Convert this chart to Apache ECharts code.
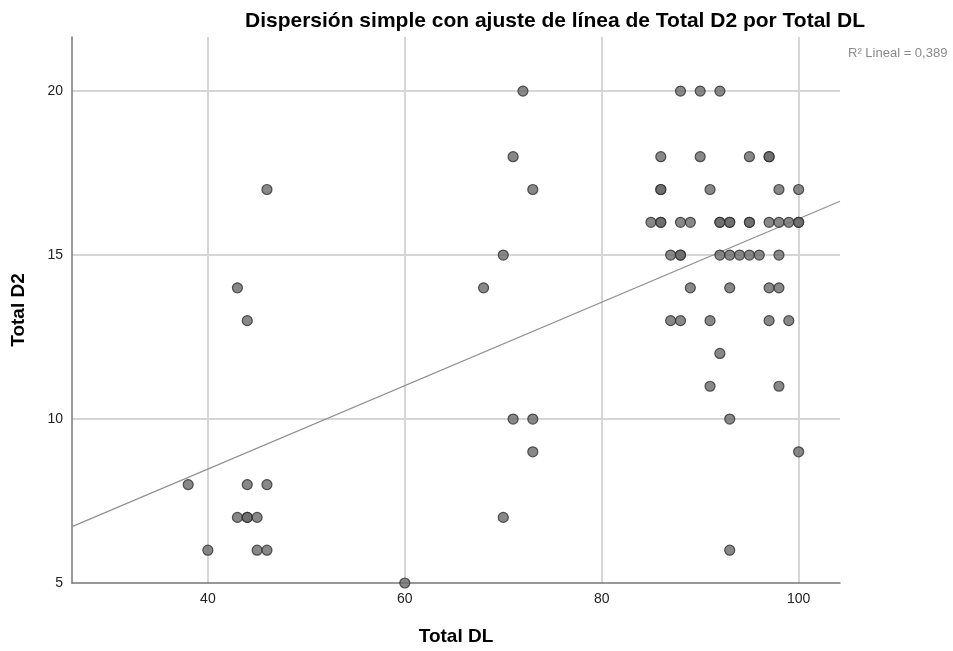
<!DOCTYPE html>
<html>
<head>
<meta charset="utf-8">
<script src="https://cdn.jsdelivr.net/npm/echarts@6/dist/echarts.min.js"></script>
<style>
html,body{margin:0;padding:0;background:#fff;}
#chart{width:953px;height:651px;}
</style>
</head>
<body>
<div id="chart"></div>
<script>
// Total DL (x) and Total D2 (y) for each case
const totalDL = [
  72, 88, 90, 92,
  71, 86, 90, 95, 97, 97,
  46, 73, 86, 86, 91, 98, 100,
  85, 86, 86, 88, 89, 92, 92, 93, 93, 95, 95, 97, 98, 99, 100, 100,
  70, 87, 88, 88, 92, 93, 94, 95, 96, 98,
  43, 68, 89, 93, 97, 98,
  44, 87, 88, 91, 97, 99,
  92,
  91, 98,
  71, 73, 93,
  73, 100,
  38, 44, 46,
  43, 44, 44, 45, 70,
  40, 45, 46, 93,
  60
];
const totalD2 = [
  20, 20, 20, 20,
  18, 18, 18, 18, 18, 18,
  17, 17, 17, 17, 17, 17, 17,
  16, 16, 16, 16, 16, 16, 16, 16, 16, 16, 16, 16, 16, 16, 16, 16,
  15, 15, 15, 15, 15, 15, 15, 15, 15, 15,
  14, 14, 14, 14, 14, 14,
  13, 13, 13, 13, 13, 13,
  12,
  11, 11,
  10, 10, 10,
  9, 9,
  8, 8, 8,
  7, 7, 7, 7, 7,
  6, 6, 6, 6,
  5
];
// Fit line end points
const fitLineX = [26.2, 104.2];
const fitLineY = [6.72, 16.64];
const xTicks = [40, 60, 80, 100];
const yTicks = [5, 10, 15, 20];

const points = totalDL.map((x, i) => [x, totalD2[i]]);
const fitLine = fitLineX.map((x, i) => [x, fitLineY[i]]);

const chart = echarts.init(document.getElementById('chart'), null, {renderer: 'canvas'});
const FONT = 'Liberation Sans, Arial, sans-serif';
chart.setOption({
  animation: false,
  backgroundColor: '#ffffff',
  title: [
    {
      text: 'Dispersión simple con ajuste de línea de Total D2 por Total DL',
      left: 240, top: 6,
      textStyle: {fontFamily: FONT, fontSize: 21, fontWeight: 'bold', color: '#000'}
    },
    {
      text: 'R² Lineal = 0,389',
      left: 843, top: 42,
      textStyle: {fontFamily: FONT, fontSize: 13, fontWeight: 'normal', color: '#8a8a8a'}
    }
  ],
  grid: {left: 72, right: 113, top: 37, bottom: 68, containLabel: false},
  xAxis: {
    type: 'value',
    min: 26.2, max: 104.2,
    name: 'Total DL',
    nameLocation: 'middle',
    nameGap: 44,
    nameTextStyle: {fontFamily: FONT, fontSize: 19, fontWeight: 'bold', color: '#000'},
    axisLine: {show: true, onZero: false, lineStyle: {color: '#777', width: 1.5}},
    axisTick: {show: false},
    axisLabel: {
      fontFamily: FONT, fontSize: 14, color: '#222', margin: 9,
      showMinLabel: false, showMaxLabel: false,
      formatter: v => (xTicks.indexOf(v) >= 0 ? String(v) : '')
    },
    splitLine: {show: true, showMinLine: false, showMaxLine: false, lineStyle: {color: '#d6d6d6', width: 2}}
  },
  yAxis: {
    type: 'value',
    min: 5, max: 21.65, interval: 5,
    name: 'Total D2',
    nameLocation: 'middle',
    nameGap: 44,
    nameTextStyle: {fontFamily: FONT, fontSize: 19, fontWeight: 'bold', color: '#000'},
    axisLine: {show: true, onZero: false, lineStyle: {color: '#777', width: 1.5}},
    axisTick: {show: false},
    axisLabel: {
      fontFamily: FONT, fontSize: 14, color: '#222', margin: 9,
      showMaxLabel: false,
      formatter: v => (yTicks.indexOf(v) >= 0 ? String(v) : '')
    },
    splitLine: {show: true, showMinLine: false, showMaxLine: false, lineStyle: {color: '#d6d6d6', width: 2}}
  },
  series: [
    {
      type: 'line',
      data: fitLine,
      symbol: 'none',
      lineStyle: {color: '#909090', width: 1.2},
      silent: true,
      z: 2
    },
    {
      type: 'scatter',
      data: points,
      symbol: 'circle',
      symbolSize: 10,
      itemStyle: {color: '#6a6a6a', borderColor: '#2e2e2e', borderWidth: 1.2},
      z: 3
    }
  ]
});
</script>
</body>
</html>
